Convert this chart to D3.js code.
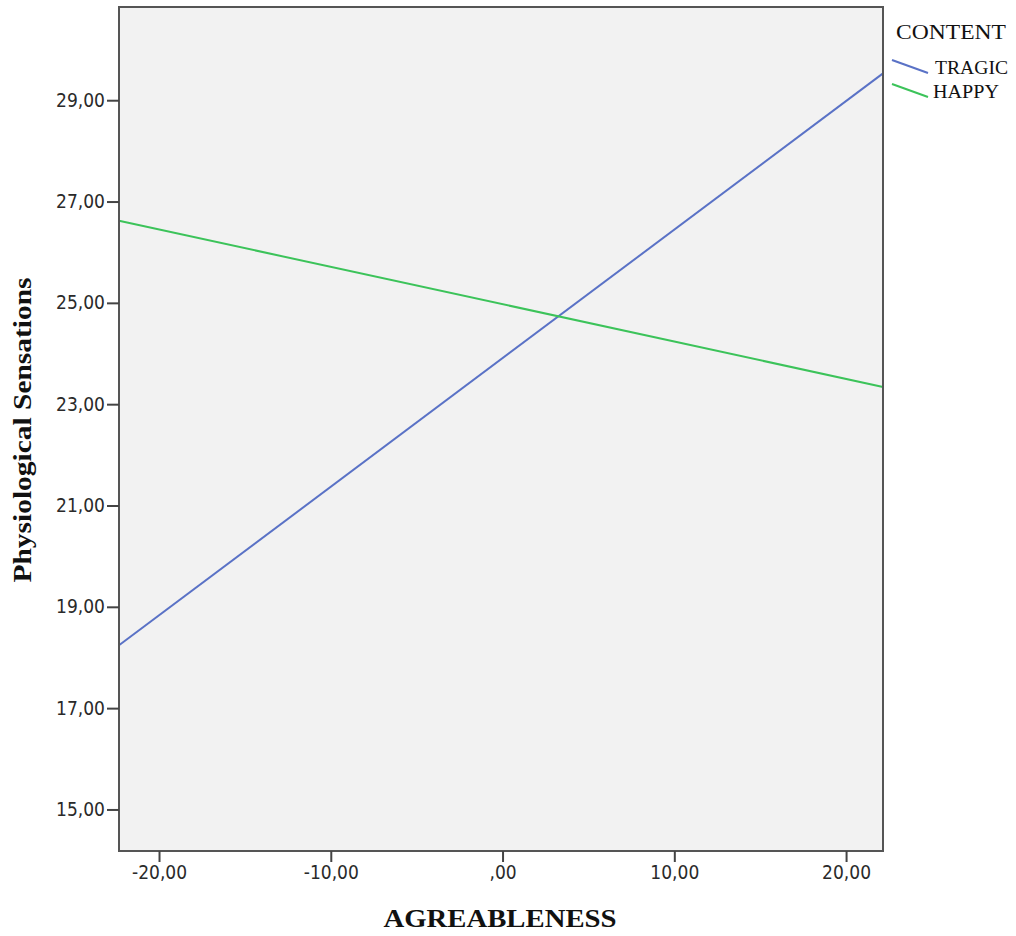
<!DOCTYPE html>
<html>
<head>
<meta charset="utf-8">
<script src="https://cdn.jsdelivr.net/npm/d3@7"></script>
<style>
  html, body { margin: 0; padding: 0; background: #ffffff; }
  svg { display: block; }
</style>
</head>
<body>
<svg id="chart" width="1016" height="936"></svg>
<script>
// ---- data ----
const seriesNames = ["TRAGIC", "HAPPY"];
const agreeableness = [-22.33, 22.15];
const tragicValues = [18.24, 29.53];
const happyValues = [26.62, 23.34];
const xTickValues = [-20, -10, 0, 10, 20];
const xTickLabels = ["-20,00", "-10,00", ",00", "10,00", "20,00"];
const yTickValues = [15, 17, 19, 21, 23, 25, 27, 29];
const yTickLabels = ["15,00", "17,00", "19,00", "21,00", "23,00", "25,00", "27,00", "29,00"];
const xDomain = [-22.33, 22.15];
const yDomain = [14.18, 30.84];

const colors = { TRAGIC: "#5a72c6", HAPPY: "#3cc35a" };

const svg = d3.select("#chart");
const plot = { left: 119, right: 883, top: 7, bottom: 851 };

const x = d3.scaleLinear().domain(xDomain).range([plot.left, plot.right]);
const y = d3.scaleLinear().domain(yDomain).range([plot.bottom, plot.top]);

// plot background
svg.append("rect")
  .attr("x", plot.left).attr("y", plot.top)
  .attr("width", plot.right - plot.left).attr("height", plot.bottom - plot.top)
  .attr("fill", "#f2f2f2");

// lines
const series = [
  { name: "TRAGIC", values: tragicValues },
  { name: "HAPPY", values: happyValues }
];
const line = d3.line().x(d => x(d[0])).y(d => y(d[1]));
svg.append("g")
  .selectAll("path").data(series).join("path")
  .attr("d", s => line(agreeableness.map((a, i) => [a, s.values[i]])))
  .attr("fill", "none")
  .attr("stroke", s => colors[s.name])
  .attr("stroke-width", 2);

// frame
svg.append("rect")
  .attr("x", plot.left).attr("y", plot.top)
  .attr("width", plot.right - plot.left).attr("height", plot.bottom - plot.top)
  .attr("fill", "none").attr("stroke", "#555555").attr("stroke-width", 2);

// axes
const tickFont = "'DejaVu Sans Condensed', 'DejaVu Sans', sans-serif";
const yAxis = d3.axisLeft(y).tickValues(yTickValues)
  .tickFormat((d, i) => yTickLabels[i]).tickSize(12).tickPadding(2);
const gy = svg.append("g").attr("transform", `translate(${plot.left},0)`).call(yAxis);
gy.select(".domain").remove();
gy.selectAll(".tick line").attr("stroke", "#444").attr("stroke-width", 2);
gy.selectAll(".tick text").attr("fill", "#2a2a2a").style("font-family", tickFont).style("font-size", "19px");

const xAxis = d3.axisBottom(x).tickValues(xTickValues)
  .tickFormat((d, i) => xTickLabels[i]).tickSize(11).tickPadding(4);
const gx = svg.append("g").attr("transform", `translate(0,${plot.bottom})`).call(xAxis);
gx.select(".domain").remove();
gx.selectAll(".tick line").attr("stroke", "#444").attr("stroke-width", 2);
gx.selectAll(".tick text").attr("fill", "#2a2a2a").style("font-family", tickFont).style("font-size", "19px");

// axis titles
const serif = "'Liberation Serif', 'DejaVu Serif', serif";
svg.append("text")
  .attr("x", 500).attr("y", 927)
  .attr("text-anchor", "middle")
  .attr("textLength", 233).attr("lengthAdjust", "spacingAndGlyphs")
  .style("font-family", serif).style("font-weight", "bold").style("font-size", "26px")
  .attr("fill", "#111")
  .text("AGREABLENESS");

svg.append("text")
  .attr("transform", "translate(31,430) rotate(-90)")
  .attr("text-anchor", "middle")
  .attr("textLength", 305).attr("lengthAdjust", "spacingAndGlyphs")
  .style("font-family", serif).style("font-weight", "bold").style("font-size", "26px")
  .attr("fill", "#111")
  .text("Physiological Sensations");

// legend
svg.append("text")
  .attr("x", 896).attr("y", 39)
  .attr("textLength", 110).attr("lengthAdjust", "spacingAndGlyphs")
  .style("font-family", serif).style("font-size", "20px").attr("fill", "#111")
  .text("CONTENT");

const legend = svg.append("g").selectAll("g").data(seriesNames).join("g")
  .attr("transform", (d, i) => `translate(0,${i * 24})`);
legend.append("line")
  .attr("x1", 892).attr("y1", 60).attr("x2", 928).attr("y2", 73)
  .attr("stroke", d => colors[d]).attr("stroke-width", 2);
legend.append("text")
  .attr("x", (d, i) => i === 0 ? 935 : 933).attr("y", 74)
  .attr("textLength", (d, i) => i === 0 ? 73 : 66).attr("lengthAdjust", "spacingAndGlyphs")
  .style("font-family", serif).style("font-size", "19px").attr("fill", "#111")
  .text(d => d);
</script>
</body>
</html>
